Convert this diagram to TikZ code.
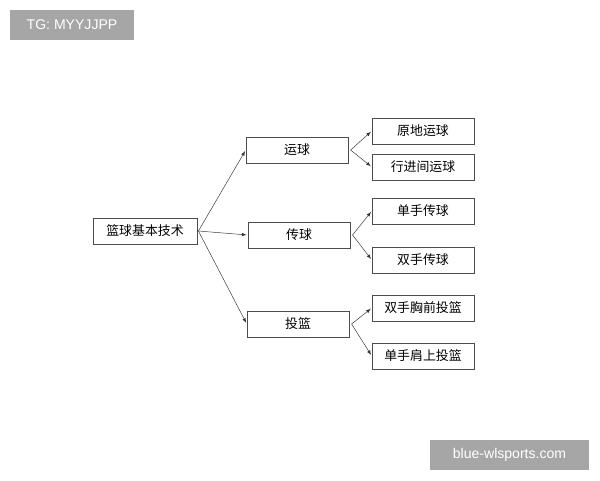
\documentclass[tikz,border=0pt]{standalone}
\usepackage{fontspec}
\setmainfont{Liberation Sans}
\newfontfamily\cjk{Noto Sans CJK SC}
\usetikzlibrary{positioning}
\tikzset{
  box/.style={draw=black!70, fill=white, minimum width=3.06cm, minimum height=0.78cm, inner sep=0pt, font=\cjk\fontsize{11}{13}\selectfont},
  link/.style={->, >=latex, black!80, shorten >=1pt},
  tagbox/.style={fill=black!35, text=white, font=\fontsize{12}{14}\selectfont, inner sep=0pt}
}
\begin{document}
\begin{tikzpicture}[x=0.03cm, y=-0.03cm]
    \useasboundingbox (0,0) rectangle (600,480);
    \fill[white] (0,0) rectangle (600,480);

    % root
    \node[box, minimum width=3.12cm] (root) at (145,231) {篮球基本技术};

    % branches
    \node[box] (dribble) at (297,150) {运球};
    \node[box] (pass) at (299,235) {传球};
    \node[box] (shoot) at (298,324) {投篮};

    % leaves
    \node[box] (d1) at (423,131) {原地运球};
    \node[box] (d2) at (423,167) {行进间运球};
    \node[box] (p1) at (423,211) {单手传球};
    \node[box] (p2) at (423,260) {双手传球};
    \node[box] (s1) at (423,308) {双手胸前投篮};
    \node[box] (s2) at (423,356) {单手肩上投篮};

    % arrows
    \foreach \b in {dribble,pass,shoot}
        \draw[link] ([xshift=1pt]root.east) -- (\b.west);
    \draw[link] ([xshift=2pt]dribble.east) -- (d1.west);
    \draw[link] ([xshift=2pt]dribble.east) -- (d2.west);
    \draw[link] ([xshift=2pt]pass.east) -- (p1.west);
    \draw[link] ([xshift=2pt]pass.east) -- (p2.west);
    \draw[link] ([xshift=2pt]shoot.east) -- (s1.west);
    \draw[link] ([xshift=2pt]shoot.east) -- (s2.west);

    % watermarks
    \node[tagbox, minimum width=3.72cm, minimum height=0.9cm] (tg) at (72,25) {TG: MYYJJPP};
    \node[tagbox, minimum width=4.77cm, minimum height=0.9cm] (site) at (509.5,455) {blue-wlsports.com};
\end{tikzpicture}
\end{document}
